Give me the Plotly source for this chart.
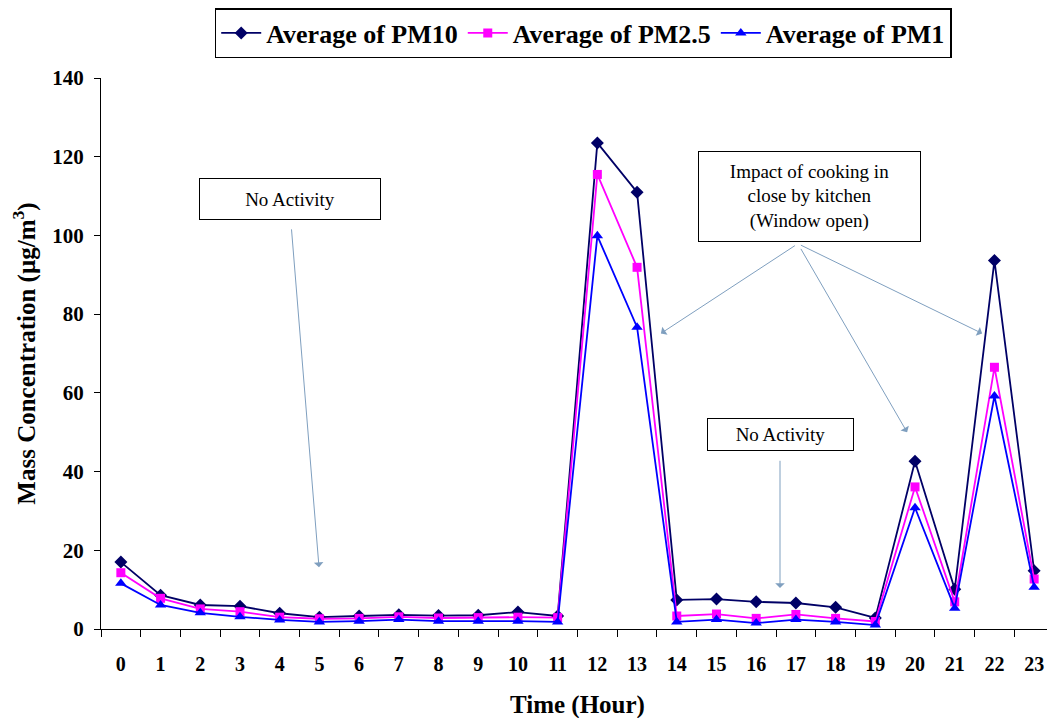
import plotly.graph_objects as go

hours = list(range(24))
hour_labels = [str(h) for h in hours]
pm10 = [17.0, 8.6, 6.1, 5.8, 4.0, 3.0, 3.3, 3.6, 3.4, 3.5, 4.3, 3.3,
        123.5, 111.0, 7.4, 7.6, 6.9, 6.6, 5.5, 2.8, 42.6, 10.1, 93.6, 14.8]
pm25 = [14.3, 7.8, 5.1, 4.4, 3.0, 2.6, 2.7, 3.1, 2.8, 2.9, 3.0, 2.9,
        115.5, 91.9, 3.3, 3.8, 2.7, 3.7, 2.7, 1.9, 36.1, 6.9, 66.5, 12.7]
pm1 = [11.6, 6.1, 4.1, 3.1, 2.3, 1.8, 2.0, 2.4, 2.0, 2.0, 2.0, 1.8,
       99.9, 76.7, 1.8, 2.4, 1.5, 2.4, 1.8, 1.0, 30.8, 5.3, 59.2, 10.6]

FONT = "Liberation Serif, Times New Roman, serif"
ARROW = "#7F9FBF"

fig = go.Figure()
fig.add_trace(go.Scatter(x=hours, y=pm10, name="Average of PM10", mode="lines+markers",
                         line=dict(color="#000066", width=1.8),
                         marker=dict(symbol="diamond", size=10, color="#000066")))
fig.add_trace(go.Scatter(x=hours, y=pm25, name="Average of PM2.5", mode="lines+markers",
                         line=dict(color="#FF00FF", width=1.8),
                         marker=dict(symbol="square", size=9, color="#FF00FF")))
fig.add_trace(go.Scatter(x=hours, y=pm1, name="Average of PM1", mode="lines+markers",
                         line=dict(color="#0000FF", width=1.8),
                         marker=dict(symbol="triangle-up", size=10, color="#0000FF")))

# text boxes
boxes = [
    dict(x=4.26, y=109.3, text="No Activity", w=180, h=40),
    dict(x=16.6, y=49.3, text="No Activity", w=145, h=31),
    dict(x=17.34, y=109.9, text="Impact of cooking in<br>close by kitchen<br>(Window open)", w=221, h=89),
]
for b in boxes:
    fig.add_annotation(x=b["x"], y=b["y"], xref="x", yref="y", text=b["text"],
                       showarrow=False, width=b["w"], height=b["h"],
                       bordercolor="#000000", borderwidth=1, borderpad=0,
                       bgcolor="white", font=dict(family=FONT, size=19, color="black"))

# arrows (start, end) in data coordinates
arrows = [
    ((4.28, 103.7), (4.99, 15.7)),
    ((16.6, 44.9), (16.6, 10.4)),
    ((17.05, 97.9), (13.6, 75.1)),
    ((17.05, 97.9), (19.8, 50.0)),
    ((17.05, 97.9), (21.69, 75.1)),
]
for (ax, ay), (x, y) in arrows:
    fig.add_annotation(x=x, y=y, ax=ax, ay=ay, xref="x", yref="y", axref="x", ayref="y",
                       text=" ", showarrow=True, arrowhead=1, arrowsize=1.6,
                       arrowwidth=1, arrowcolor=ARROW)

# x axis title as annotation (below tick labels)
fig.add_annotation(x=0.5, y=-0.1377, xref="paper", yref="paper", text="<b>Time (Hour)</b>",
                   showarrow=False, xanchor="center", yanchor="middle",
                   font=dict(family=FONT, size=25, color="black"))

# page body has an 8px margin, so the figure is 8px smaller and margins shifted
fig.update_layout(
    width=1047, height=710,
    margin=dict(l=93, r=1, t=69, b=89),
    paper_bgcolor="white", plot_bgcolor="white",
    font=dict(family=FONT, color="black"),
    showlegend=True,
    legend=dict(orientation="h", x=0.506, xanchor="center", y=1.125, yanchor="top",
                bordercolor="black", borderwidth=1.5, bgcolor="white",
                font=dict(family=FONT, size=26, color="black", weight="bold"),
                itemwidth=40, tracegroupgap=0),
    xaxis=dict(range=[-0.5, 23.5], tickmode="array", tickvals=hours, ticktext=hour_labels,
               ticks="outside", ticklen=17, tickcolor="rgba(0,0,0,0)",
               minor=dict(tick0=0.5, dtick=1, ticks="outside", ticklen=7, tickcolor="black",
                          showgrid=False),
               showline=True, linecolor="black", linewidth=1, showgrid=False, zeroline=False,
               tickfont=dict(family=FONT, size=20, color="black", weight="bold")),
    yaxis=dict(range=[0, 140], dtick=20, ticks="outside", ticklen=6, tickcolor="black",
               ticklabelstandoff=6,
               showline=True, linecolor="black", linewidth=1, showgrid=False, zeroline=False,
               tickfont=dict(family=FONT, size=21, color="black", weight="bold"),
               title=dict(text="Mass Concentration (µg/m<sup>3</sup>)", standoff=10,
                          font=dict(family=FONT, size=25, color="black", weight="bold"))),
)

fig.write_html("out.html")
